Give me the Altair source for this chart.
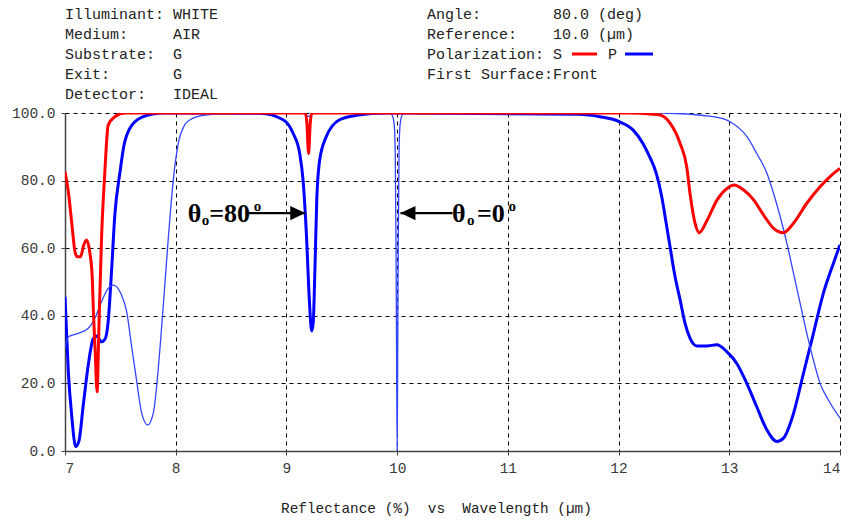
import altair as alt
import pandas as pd

# ---- reflectance curves: wavelength (µm) and reflectance (%) ----
# S polarization, 80 deg incidence
s80_wl = [7.0, 7.03, 7.06, 7.09, 7.11, 7.14, 7.17, 7.196, 7.225, 7.245, 7.258, 7.272,
          7.29, 7.305, 7.33, 7.36, 7.39, 7.45, 7.54, 9.17, 9.185, 9.195, 9.2, 9.205,
          9.215, 9.23, 12.10, 12.2, 12.375, 12.465, 12.556, 12.616, 12.646, 12.69,
          12.73, 12.80, 12.89, 12.98, 13.04, 13.13, 13.22, 13.31, 13.40, 13.49, 13.58,
          13.70, 13.82, 13.91, 14.0]
s80_r = [82.6, 76.7, 67.8, 59.0, 57.5, 57.5, 61.0, 62.4, 58.5, 52.0, 40.0, 30.0,
         17.5, 35.0, 63.0, 82.6, 96.4, 98.9, 100.0, 100.0, 97.0, 90.0, 88.0, 90.0,
         97.0, 100.0, 100.0, 99.9, 99.4, 97.0, 91.0, 84.0, 76.0, 67.5,
         64.6, 68.3, 74.3, 77.7, 78.7, 77.2, 74.3, 69.8, 65.9, 64.6, 67.4,
         73.3, 78.2, 81.2, 83.6]

# P polarization, 80 deg incidence
p80_wl = [7.0, 7.03, 7.06, 7.097, 7.126, 7.165, 7.21, 7.256, 7.286, 7.33, 7.36, 7.39,
          7.42, 7.45, 7.497, 7.54, 7.63, 7.78, 7.9, 8.76, 8.97, 9.06, 9.12, 9.15,
          9.18, 9.207, 9.228, 9.242, 9.258, 9.274, 9.30, 9.36, 9.48, 9.63, 9.9,
          11.64, 11.83, 12.01, 12.13, 12.22, 12.28, 12.34, 12.39, 12.43, 12.465,
          12.51, 12.556, 12.60, 12.646, 12.706, 12.797, 12.887, 12.977, 13.068,
          13.158, 13.248, 13.34, 13.43, 13.49, 13.58, 13.67, 13.76, 13.85, 13.94, 14.0]
p80_r = [45.6, 23.5, 10.6, 1.3, 3.0, 13.6, 25.4, 33.3, 34.0, 32.3, 33.0, 38.3,
         53.0, 69.8, 82.6, 91.5, 97.4, 99.6, 100.0, 99.9, 98.0, 94.0, 88.0, 80.2,
         64.4, 44.7, 35.5, 38.0, 54.5, 74.3, 86.0, 93.0, 98.0, 99.3, 100.0,
         99.6, 98.9, 97.4, 95.0, 91.0, 87.1, 82.2, 75.2, 67.4, 60.4,
         51.6, 44.7, 37.8, 33.3, 31.1, 31.1, 31.4, 29.4, 25.9,
         20.0, 13.1, 6.2, 2.8, 3.8, 11.1, 23.0, 34.8, 46.7, 55.5, 61.0]

# P polarization, normal incidence (0 deg)
p0_wl = [7.0, 7.03, 7.12, 7.21, 7.27, 7.33, 7.39, 7.436, 7.51, 7.557, 7.60, 7.648,
         7.69, 7.747, 7.80, 7.84, 7.888, 7.933, 7.978, 8.02, 8.08, 8.13, 8.25, 8.5,
         9.15, 9.2, 9.25, 9.94, 9.96, 9.975, 9.983, 9.99, 9.995, 10.0, 10.005,
         10.01, 10.017, 10.025, 10.04, 10.06, 12.4, 12.856, 13.007, 13.16, 13.248,
         13.34, 13.40, 13.46, 13.52, 13.58, 13.64, 13.70, 13.76, 13.82, 13.895, 14.0]
p0_r = [30.5, 33.8, 34.8, 36.3, 39.3, 44.2, 48.1, 49.1, 46.2, 41.2, 31.4, 20.5,
        11.6, 7.7, 11.6, 23.5, 43.2, 62.9, 80.2, 90.5, 96.4, 98.0, 99.3, 100.0,
        100.0, 99.0, 100.0, 99.8, 99.0, 96.0, 88.0, 60.0, 28.0, 0.0, 28.0,
        60.0, 88.0, 96.0, 99.0, 99.8, 100.0, 98.9, 97.4, 93.0, 88.0,
        82.2, 76.2, 69.3, 61.5, 52.6, 43.7, 34.8, 26.9, 20.0, 15.1, 9.7]

x_ticks = [7, 8, 9, 10, 11, 12, 13, 14]
y_ticks = [0, 20, 40, 60, 80, 100]

# header block: (label, value) pairs for the two columns
header_left = [("Illuminant:", "WHITE"), ("Medium:", "AIR"), ("Substrate:", "G"),
               ("Exit:", "G"), ("Detector:", "IDEAL")]
header_right = [("Angle:", "80.0 (deg)"), ("Reference:", "10.0 (µm)"),
                ("Polarization:", "S"), ("First Surface:", "Front")]

# annotation arrows: tail, tip, reflectance level
arrow_tail = [8.63, 10.50]
arrow_tip = [9.17, 10.03]
arrow_level = [70.4, 70.4]

MONO = "Liberation Mono"
SERIF = "Liberation Serif"
W, H = 775, 338

x_scale = alt.Scale(domain=[7, 14], nice=False, zero=False)
y_scale = alt.Scale(domain=[0, 100], nice=False)

common_axis = dict(
    grid=True, gridDash=[4, 4], gridColor="#000000", gridWidth=1, gridOpacity=1,
    domainColor="#444444", domainWidth=1.5, tickColor="#444444", tickSize=4,
    labelFont=MONO, labelFontSize=14.5, labelColor="#3a3a3a", title=None,
)
x_enc = alt.X("wl:Q", scale=x_scale,
              axis=alt.Axis(values=x_ticks, format="d", labelPadding=6, **common_axis))
y_enc = alt.Y("r:Q", scale=y_scale,
              axis=alt.Axis(values=y_ticks, format=".1f", labelPadding=6, **common_axis))


def curve(wl, r, color, width):
    df = pd.DataFrame({"wl": wl, "r": r})
    return alt.Chart(df).mark_line(
        color=color, strokeWidth=width, interpolate="monotone", clip=True
    ).encode(x=x_enc, y=y_enc)


p80_line = curve(p80_wl, p80_r, "#0000ff", 3)
p0_line = curve(p0_wl, p0_r, "#3344ff", 1.3)
s80_line = curve(s80_wl, s80_r, "#ff0000", 3)

# arrows
arrows_df = pd.DataFrame({"wl": arrow_tail, "wl2": arrow_tip, "r": arrow_level})
arrow_shafts = alt.Chart(arrows_df).mark_rule(color="black", strokeWidth=2.2).encode(
    x=alt.X("wl:Q", scale=x_scale), x2="wl2:Q", y=alt.Y("r:Q", scale=y_scale)
)
head_right = alt.Chart(pd.DataFrame({"wl": [arrow_tip[0]], "r": [arrow_level[0]]})).mark_point(
    shape="M0,0 L-2,-0.95 L-2,0.95 Z", size=225, filled=True, color="black", opacity=1
).encode(x=alt.X("wl:Q", scale=x_scale), y=alt.Y("r:Q", scale=y_scale))
head_left = alt.Chart(pd.DataFrame({"wl": [arrow_tip[1]], "r": [arrow_level[1]]})).mark_point(
    shape="M0,0 L2,-0.95 L2,0.95 Z", size=225, filled=True, color="black", opacity=1
).encode(x=alt.X("wl:Q", scale=x_scale), y=alt.Y("r:Q", scale=y_scale))

# angle labels: θ with subscript o, "=value" (right-aligned), superscript o
ann_df = pd.DataFrame({
    "wl": [8.108, 8.236, 8.672, 8.705, 10.496, 10.630, 10.972, 11.005],
    "r": [67.75, 67.0, 67.75, 70.9, 67.75, 67.0, 67.75, 70.9],
    "t": ["θ", "o", "=80", "o", "θ", "o", "=0", "o"],
    "fs": [26, 15, 26, 15, 26, 15, 26, 15],
    "al": ["left", "left", "right", "left", "left", "left", "right", "left"],
})
ann_left = alt.Chart(ann_df).transform_filter(alt.datum.al == "left").mark_text(
    font=SERIF, fontWeight="bold", align="left", baseline="alphabetic", color="black"
).encode(
    x=alt.X("wl:Q", scale=x_scale), y=alt.Y("r:Q", scale=y_scale),
    text="t:N", size=alt.Size("fs:Q", scale=None, legend=None),
)
ann_right = alt.Chart(ann_df).transform_filter(alt.datum.al == "right").mark_text(
    font=SERIF, fontWeight="bold", align="right", baseline="alphabetic", color="black"
).encode(
    x=alt.X("wl:Q", scale=x_scale), y=alt.Y("r:Q", scale=y_scale),
    text="t:N", size=alt.Size("fs:Q", scale=None, legend=None),
)

# header text and polarization key (positions relative to the plot origin)
one = pd.DataFrame({"k": [0]})
row_y = [-99.5, -79.5, -59.5, -39.5, -19.5]


def label(txt, px, py, size=15):
    return alt.Chart(one).mark_text(
        font=MONO, fontSize=size, align="left", baseline="middle", color="#222222"
    ).encode(x=alt.value(px), y=alt.value(py), text=alt.value(txt))


header_layers = []
for (lab, val), yy in zip(header_left, row_y):
    header_layers.append(label(lab, 0, yy))
    header_layers.append(label(val, 108, yy))
for (lab, val), yy in zip(header_right, row_y):
    header_layers.append(label(lab, 362, yy))
    header_layers.append(label(val, 488, yy))
header_layers.append(label("P", 543, row_y[2]))

key_red = alt.Chart(one).mark_rule(color="#ff0000", strokeWidth=3).encode(
    x=alt.value(507), x2=alt.value(532), y=alt.value(row_y[2] + 0.5))
key_blue = alt.Chart(one).mark_rule(color="#0000ff", strokeWidth=3).encode(
    x=alt.value(560), x2=alt.value(588), y=alt.value(row_y[2] + 0.5))

x_title = label("Reflectance (%)\u00a0\u00a0vs\u00a0\u00a0Wavelength (µm)", 216, 396, size=14.4)

chart = alt.layer(
    p80_line, p0_line, s80_line,
    arrow_shafts, head_right, head_left, ann_left, ann_right,
    *header_layers, key_red, key_blue, x_title,
).properties(
    width=W, height=H,
    autosize=alt.AutoSizeParams(type="none"),
    padding={"left": 65, "top": 113, "right": 10, "bottom": 71},
    background="white",
).configure_view(strokeWidth=0)

chart.save("out.html", embed_options={"renderer": "svg", "actions": False})
